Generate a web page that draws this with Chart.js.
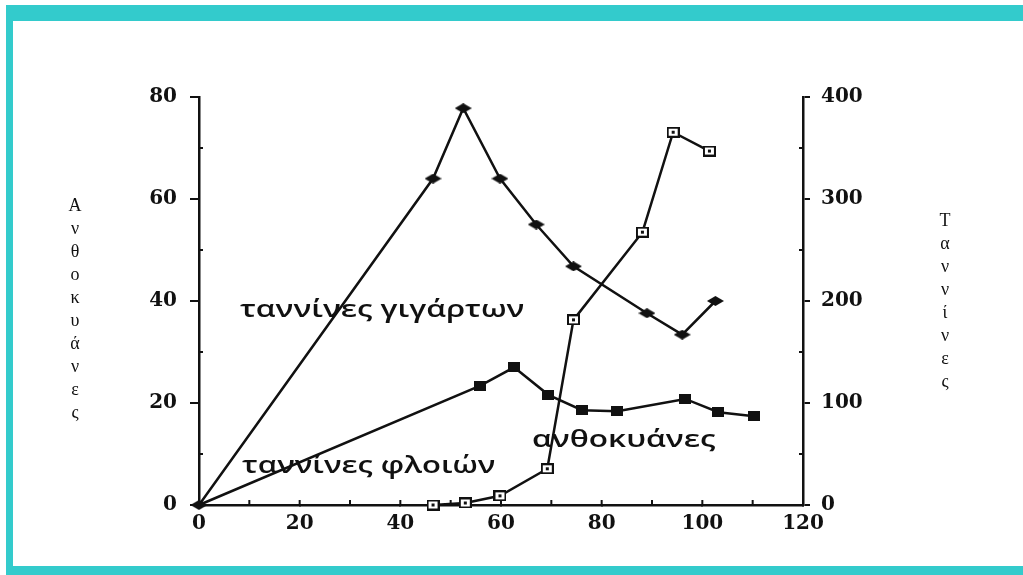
<!DOCTYPE html>
<html>
<head>
<meta charset="utf-8">
<script src="https://cdn.jsdelivr.net/npm/chart.js@4/dist/chart.umd.min.js"></script>
<style>
  html, body { margin: 0; padding: 0; background: #fff; width: 1023px; height: 575px; overflow: hidden; }
  #frame { position: absolute; left: 6px; top: 5px; width: 1017px; height: 570px; box-sizing: border-box;
           border-style: solid; border-color: rgb(51,203,204); border-width: 16px 0 9px 7px; background: #fff; }
  #wrap { position: absolute; left: 0; top: 0; width: 1023px; height: 575px; }
  .ann { position: absolute; font-family: 'Open Sans', sans-serif; font-weight: 600; font-size: 24px; line-height: 24px;
         color: #111; white-space: nowrap; transform-origin: 0 0; display: inline-block; }
  .vt { position: absolute; font-family: 'Liberation Serif', serif; font-size: 18px; line-height: 23px; color: #111;
        width: 30px; text-align: center; }
</style>
</head>
<body>
<div id="frame"></div>
<div id="wrap"><canvas id="c" width="1023" height="575"></canvas></div>
<div class="ann" id="a1" data-w="285" style="left:240px; top:296px;">ταννίνες γιγάρτων</div>
<div class="ann" id="a2" data-w="253" style="left:242px; top:452px;">ταννίνες φλοιών</div>
<div class="ann" id="a3" data-w="184" style="left:532px; top:426px;">ανθοκυάνες</div>
<div class="vt" id="tl" style="left:60px; top:194px;"></div>
<div class="vt" id="tr" style="left:930px; top:209px;"></div>
<script>
// ---- data ----
const xTicksMax = 120;
const leftTitle = 'Ανθοκυάνες';
const rightTitle = 'Ταννίνες';
const seedX = [0, 46.5, 52.5, 59.8, 67, 74.4, 89, 96, 102.6];
const seedTannins = [0, 320, 389, 320, 275, 234, 188, 167, 200];
const skinX = [0, 55.9, 62.6, 69.4, 76.1, 83.1, 96.6, 103.2, 110.3];
const skinTannins = [0, 117, 135, 108, 93, 92, 104, 91, 87];
const anthoX = [46.5, 52.9, 59.8, 69.2, 74.4, 88.1, 94.2, 101.4];
const anthocyanins = [0, 0.4, 1.8, 7.1, 36.3, 53.5, 73.1, 69.4];

// ---- axis titles as stacked letters ----
document.getElementById('tl').innerHTML = leftTitle.split('').join('<br>');
document.getElementById('tr').innerHTML = rightTitle.split('').join('<br>');

// ---- stretch annotations to target widths ----
document.querySelectorAll('.ann').forEach(el => {
  const w = el.offsetWidth;
  const target = parseFloat(el.dataset.w);
  el.style.transform = 'scaleX(' + (target / w) + ')';
});

// ---- marker styles ----
function mk(w, h, fn) { const c = document.createElement('canvas'); c.width = w; c.height = h; fn(c.getContext('2d'), w, h); return c; }
const diamond = mk(17, 10, (g, w, h) => { g.fillStyle = '#111'; g.beginPath(); g.moveTo(0, h/2); g.lineTo(w/2, 0); g.lineTo(w, h/2); g.lineTo(w/2, h); g.closePath(); g.fill(); });
const fsquare = mk(12, 10, (g, w, h) => { g.fillStyle = '#111'; g.fillRect(0, 0, w, h); });
const osquare = mk(13, 11, (g, w, h) => { g.fillStyle = '#fff'; g.fillRect(0, 0, w, h); g.strokeStyle = '#111'; g.lineWidth = 2; g.strokeRect(1, 1, w-2, h-2); g.fillStyle = '#111'; g.fillRect(w/2-1.5, h/2-1.5, 3, 3); });

const pts = (xs, ys) => xs.map((x, i) => ({ x: x, y: ys[i] }));

const minorTicks = {
  id: 'minorTicks',
  afterDraw(chart) {
    const ctx = chart.ctx, a = chart.chartArea;
    const sx = chart.scales.x, sl = chart.scales.y, sr = chart.scales.y1;
    ctx.save(); ctx.strokeStyle = '#111'; ctx.lineWidth = 2;
    ctx.beginPath();
    for (let v = 10; v < xTicksMax; v += 10) { const p = sx.getPixelForValue(v); ctx.moveTo(p, a.bottom); ctx.lineTo(p, a.bottom - 5); }
    for (let v = 10; v < 80; v += 20) { const p = sl.getPixelForValue(v); ctx.moveTo(a.left, p); ctx.lineTo(a.left + 4, p); }
    for (let v = 50; v < 400; v += 100) { const p = sr.getPixelForValue(v); ctx.moveTo(a.right, p); ctx.lineTo(a.right - 4, p); }
    ctx.stroke(); ctx.restore();
  }
};

const tickFont = { family: "'DejaVu Serif', serif", size: 20, weight: 'bold' };
new Chart(document.getElementById('c'), {
  type: 'line',
  data: {
    datasets: [
      { label: 'ταννίνες γιγάρτων', data: pts(seedX, seedTannins), yAxisID: 'y1', borderColor: '#111', borderWidth: 2.5,
        pointStyle: diamond, pointRadius: 5, tension: 0, clip: false },
      { label: 'ταννίνες φλοιών', data: pts(skinX, skinTannins), yAxisID: 'y1', borderColor: '#111', borderWidth: 2.5,
        pointStyle: fsquare, pointRadius: skinX.map((x, i) => i === 0 ? 0 : 5), tension: 0, clip: false },
      { label: 'ανθοκυάνες', data: pts(anthoX, anthocyanins), yAxisID: 'y', borderColor: '#111', borderWidth: 2.5,
        pointStyle: osquare, pointRadius: 5, tension: 0, clip: false }
    ]
  },
  options: {
    responsive: false, animation: false,
    layout: { padding: { top: 97, left: 0, right: 0, bottom: 0 } },
    plugins: { legend: { display: false }, tooltip: { enabled: false } },
    scales: {
      x: { type: 'linear', min: 0, max: xTicksMax, afterFit: s => { s.height = 70; },
           ticks: { stepSize: 20, color: '#111', font: tickFont, padding: 5, maxRotation: 0 },
           grid: { drawOnChartArea: false, drawTicks: true, tickLength: 2, color: '#111', lineWidth: 2 },
           border: { display: true, color: '#111', width: 2.5 } },
      y: { position: 'left', min: 0, max: 80, afterFit: s => { s.width = 199; },
           ticks: { stepSize: 20, color: '#111', font: tickFont, padding: 13 },
           grid: { drawOnChartArea: false, drawTicks: true, tickLength: 9, color: '#111', lineWidth: 2 },
           border: { display: true, color: '#111', width: 2.5 } },
      y1: { position: 'right', min: 0, max: 400, afterFit: s => { s.width = 220; },
           ticks: { stepSize: 100, color: '#111', font: tickFont, padding: 11 },
           grid: { drawOnChartArea: false, drawTicks: true, tickLength: 7, color: '#111', lineWidth: 2 },
           border: { display: true, color: '#111', width: 2.5 } }
    }
  },
  plugins: [minorTicks]
});
</script>
</body>
</html>
